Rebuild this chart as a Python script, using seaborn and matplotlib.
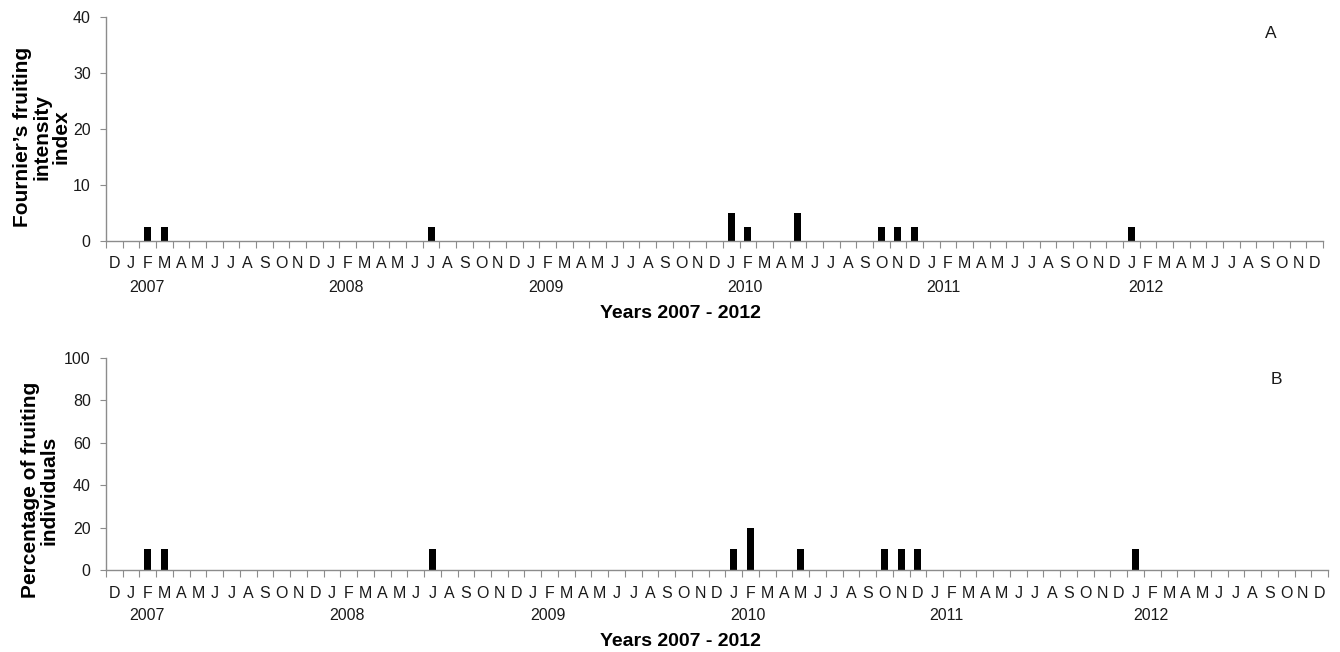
import numpy as np
import pandas as pd
import matplotlib
matplotlib.use("Agg")
import matplotlib.pyplot as plt
import seaborn as sns
from matplotlib.transforms import ScaledTranslation, blended_transform_factory

# ---------------- data ----------------
month_letters = ["D"] + list("JFMAMJJASOND") * 6          # Dec 2006 .. Dec 2012
years = ["2007", "2008", "2009", "2010", "2011", "2012"]
year_label_x = [1.95, 13.9, 25.9, 37.85, 49.7, 61.9]       # category position of year labels
fruit_months = ["2007-02", "2007-03", "2008-07", "2010-01", "2010-02",
                "2010-05", "2010-10", "2010-11", "2010-12", "2012-01"]
fournier_index = [2.5, 2.5, 2.5, 5, 2.5, 5, 2.5, 2.5, 2.5, 2.5]
pct_fruiting = [10, 10, 10, 10, 20, 10, 10, 10, 10, 10]

months = pd.period_range("2006-12", "2012-12", freq="M").astype(str)
df = pd.DataFrame({"month": months, "pos": np.arange(len(months))})
ev = pd.DataFrame({"month": fruit_months, "fournier": fournier_index, "pct": pct_fruiting})
df = df.merge(ev, on="month", how="left").fillna(0)

# ---------------- style ----------------
sns.set_style("white")
plt.rcParams["font.family"] = ["Liberation Sans", "DejaVu Sans"]
GREY = "#8c8c8c"

fig = plt.figure(figsize=(13.4, 6.52), dpi=100)
ax1 = fig.add_axes([106 / 1340, 1 - 241 / 652, (1323 - 106) / 1340, (241 - 17) / 652])
ax2 = fig.add_axes([106 / 1340, 1 - 570 / 652, (1328 - 106) / 1340, (570 - 358) / 652])

n = len(months)
specs = [
    (ax1, "fournier", [0, 10, 20, 30, 40], 40, "A", (1271, 34),
     "Fournier\u2019s fruiting\nintensity\nindex", (42, 137), 313, 10.8),
    (ax2, "pct", [0, 20, 40, 60, 80, 100], 100, "B", (1276, 379),
     "Percentage of fruiting\nindividuals", (40, 490), 641, 11.5),
]

for ax, col, yt, ymax, letter, lpos, ylab, ylpos, xlab_y, mpad in specs:
    sns.barplot(data=df, x="pos", y=col, color="black", width=0.42,
                linewidth=0, order=list(range(n)), ax=ax, saturation=1)
    ax.set_xlim(-0.5, n - 0.5)
    ax.set_ylim(0, ymax)
    ax.set_yticks(yt)
    ax.set_yticklabels([str(v) for v in yt], fontsize=11.5, color="#1a1a1a")
    ax.set_xticks(np.arange(-0.5, n, 1.0))
    ax.set_xticklabels([])
    ax.set_xticks(np.arange(n), minor=True)
    ax.set_xticklabels(month_letters, minor=True, fontsize=11.5, color="#1a1a1a")
    ax.tick_params(axis="x", which="major", direction="out", length=5, width=0.8,
                   color=GREY, bottom=True)
    ax.tick_params(axis="x", which="minor", length=0, pad=mpad, bottom=True)
    ax.tick_params(axis="y", direction="out", length=4, width=0.8, color=GREY,
                   pad=7, left=True)
    ax.set_xlabel("")
    ax.set_ylabel("")
    for s in ["top", "right"]:
        ax.spines[s].set_visible(False)
    for s in ["left", "bottom"]:
        ax.spines[s].set_color(GREY)
        ax.spines[s].set_linewidth(1.0)
    ax.grid(False)

    # year labels
    trans = ax.get_xaxis_transform() + ScaledTranslation(0, -0.46, fig.dpi_scale_trans)
    for yr, xp in zip(years, year_label_x):
        ax.text(xp, 0, yr, transform=trans, ha="center", va="center",
                fontsize=11.5, color="#1a1a1a")

    fig.text(lpos[0] / 1340, 1 - lpos[1] / 652, letter, ha="center", va="center",
             fontsize=12.5, color="#1a1a1a")
    fig.text(ylpos[0] / 1340, 1 - ylpos[1] / 652, ylab, rotation=90, ha="center",
             va="center", multialignment="center", fontsize=15, fontweight="bold",
             linespacing=1.0, color="black")
    fig.text(680 / 1340, 1 - xlab_y / 652, "Years 2007 - 2012", ha="center",
             va="center", fontsize=14, fontweight="bold", color="black")

fig.savefig("out.png", dpi=100)
